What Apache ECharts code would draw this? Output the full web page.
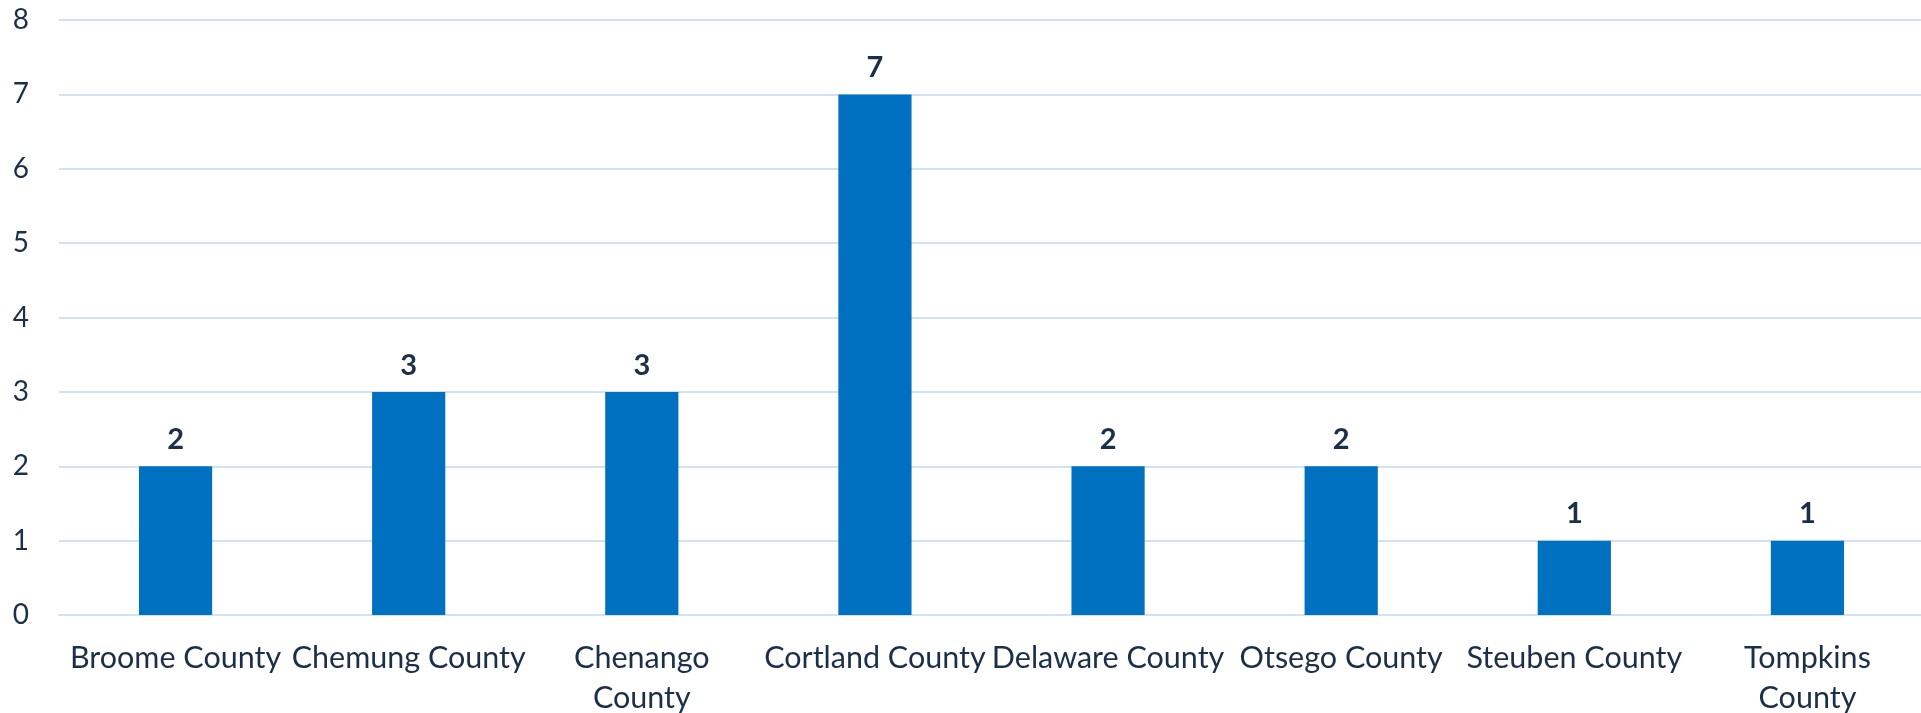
<!DOCTYPE html>
<html>
<head>
<meta charset="utf-8">
<script src="https://cdn.jsdelivr.net/npm/echarts@6/dist/echarts.min.js"></script>
<style>
  html, body { margin: 0; padding: 0; background: #ffffff; }
  #chart { width: 1921px; height: 713px; }
</style>
</head>
<body>
<div id="chart"></div>
<script>
// Counties (line breaks where the long names wrap) and their counts
const counties = [
  'Broome County', 'Chemung County', 'Chenango\nCounty', 'Cortland County',
  'Delaware County', 'Otsego County', 'Steuben County', 'Tompkins\nCounty'
];
const counts = [2, 3, 3, 7, 2, 2, 1, 1];
const yTicks = [0, 1, 2, 3, 4, 5, 6, 7, 8];

const FONT = 'Lato, "Noto Sans", sans-serif';
const TEXT = '#1b2f48';
const GRID = '#d3e2f3';

const chart = echarts.init(document.getElementById('chart'), null, { renderer: 'canvas' });
chart.setOption({
  animation: false,
  backgroundColor: '#ffffff',
  grid: {
    left: 59, right: -3, top: 20, bottom: 98,
    containLabel: false,
    outerBoundsMode: 'none'
  },
  xAxis: {
    type: 'category',
    data: counties,
    axisLine: { show: true, lineStyle: { color: GRID, width: 2 } },
    axisTick: { show: false },
    axisLabel: {
      color: TEXT,
      fontFamily: FONT,
      fontSize: 30.5,
      lineHeight: 40,
      margin: 23,
      interval: 0
    }
  },
  yAxis: {
    type: 'value',
    min: yTicks[0],
    max: yTicks[yTicks.length - 1],
    interval: 1,
    axisLine: { show: false },
    axisTick: { show: false },
    splitLine: { show: true, lineStyle: { color: GRID, width: 2 } },
    axisLabel: {
      color: TEXT,
      fontFamily: FONT,
      fontSize: 28,
      margin: 30,
      formatter: v => String(v)
    }
  },
  series: [{
    type: 'bar',
    data: counts,
    barWidth: '31.4%',
    itemStyle: { color: '#0070c0' },
    label: {
      show: true,
      position: 'top',
      distance: 12,
      color: TEXT,
      fontFamily: FONT,
      fontSize: 29,
      fontWeight: 'bold'
    }
  }]
});
</script>
</body>
</html>
